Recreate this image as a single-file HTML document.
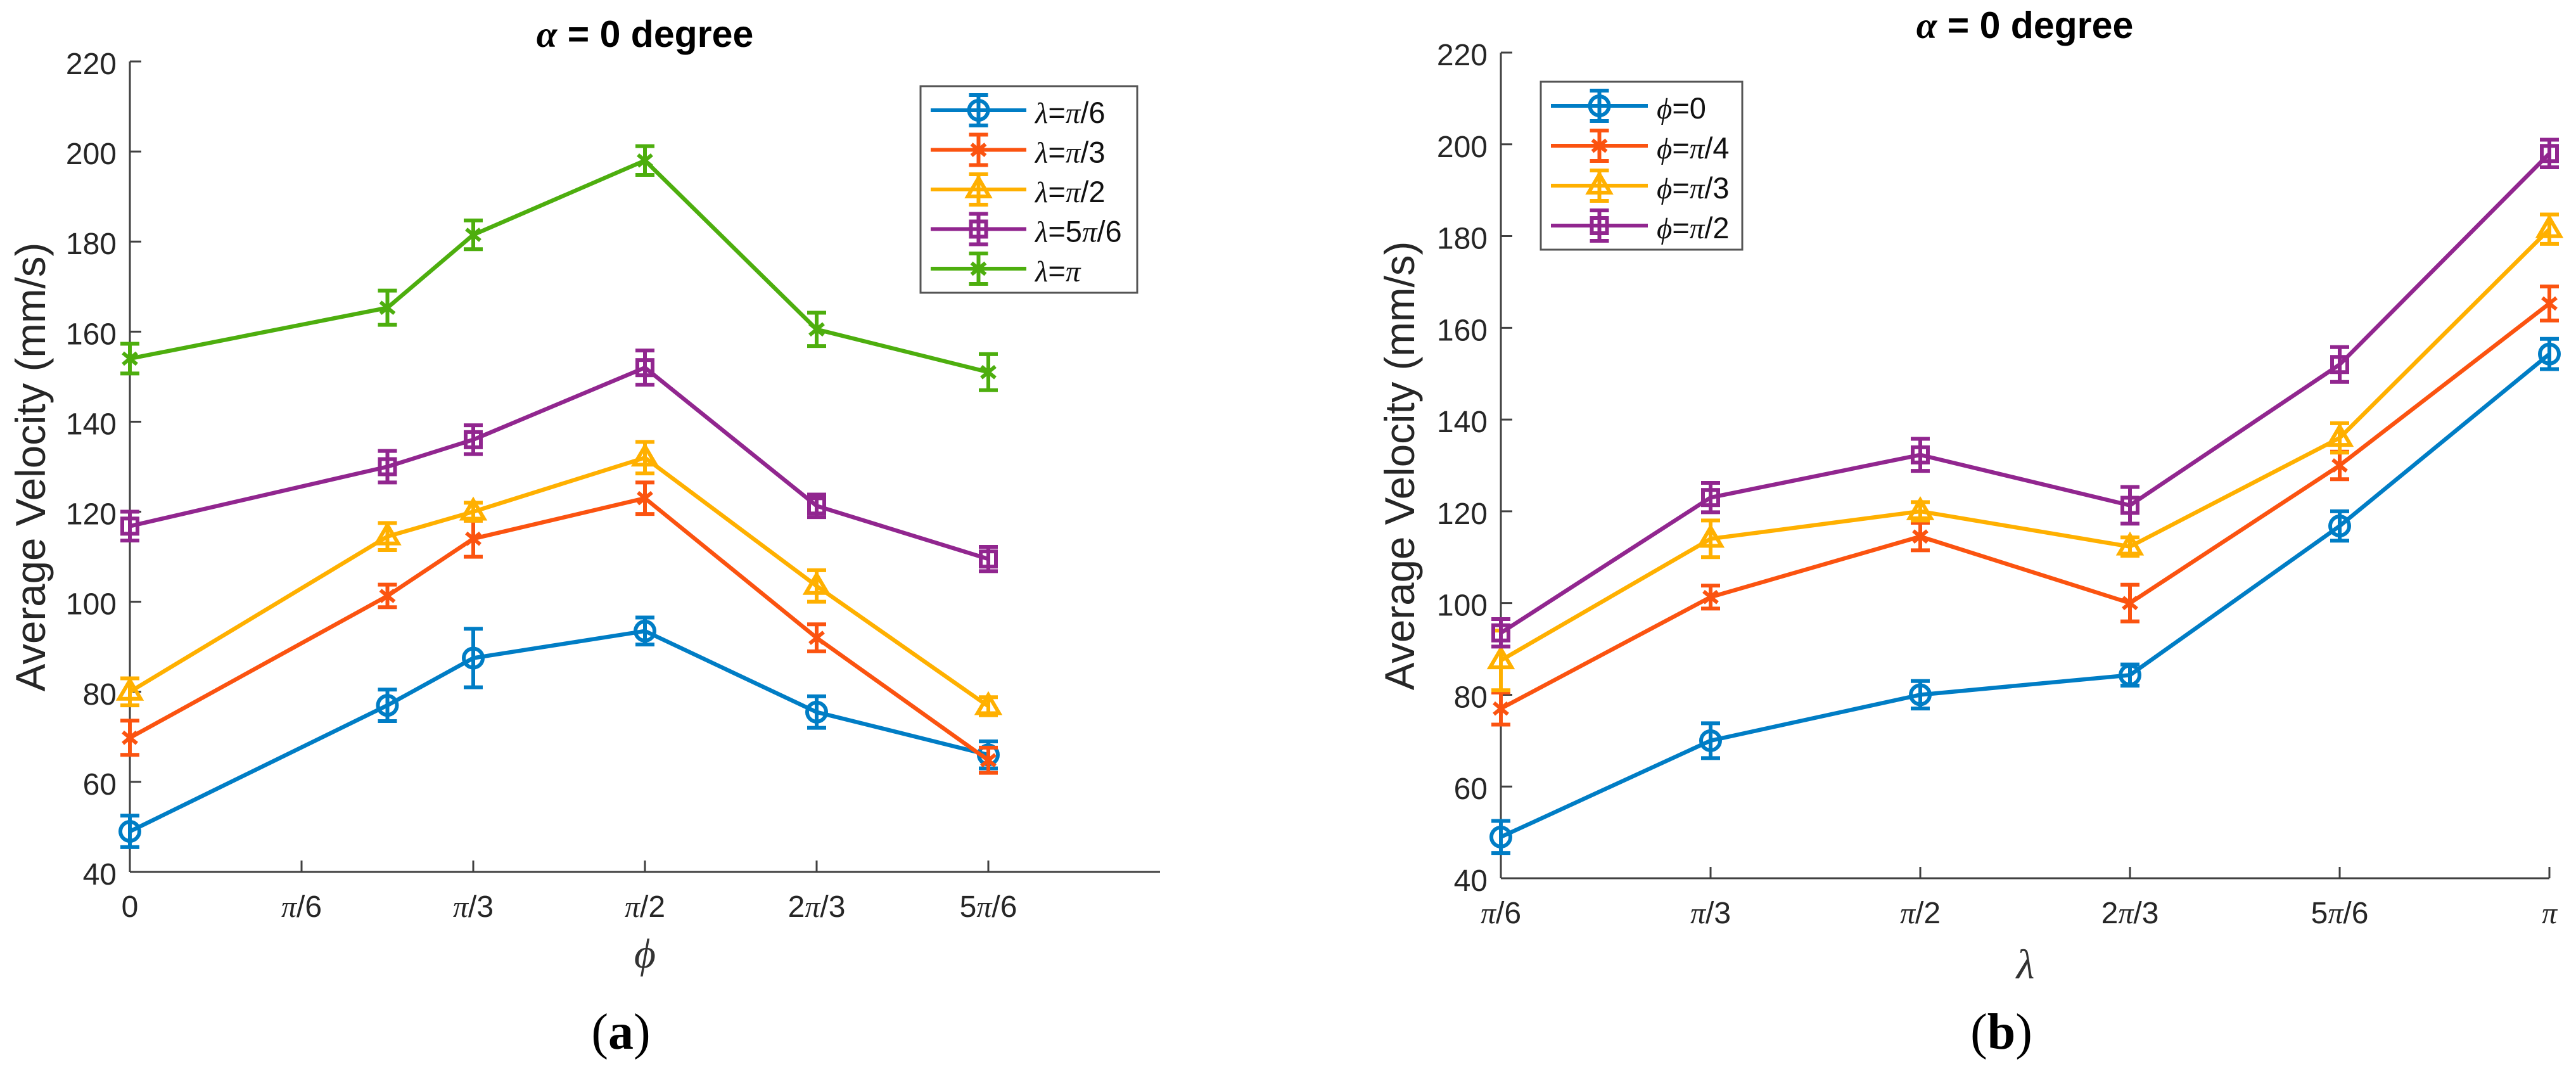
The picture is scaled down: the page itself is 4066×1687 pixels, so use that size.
<!DOCTYPE html>
<html lang="en">
<head>
<meta charset="utf-8">
<title>Average velocity at alpha = 0 degree</title>
<style>
html,body{margin:0;padding:0;background:#fff;}
svg{display:block;}
text{font-family:"Liberation Sans",sans-serif;}
</style>
</head>
<body>
<svg id="figure" xmlns="http://www.w3.org/2000/svg" width="4066" height="1687" viewBox="0 0 4066 1687">
  <rect x="0" y="0" width="4066" height="1687" fill="#fff"/>
  <g id="panel-a"></g>
  <g id="panel-b"></g>
  <text x="1018" y="74" text-anchor="middle" font-size="59" font-weight="bold" fill="#000"><tspan font-family="Liberation Serif" font-style="italic">α</tspan> = 0 degree</text>
  <text x="3196" y="60" text-anchor="middle" font-size="59" font-weight="bold" fill="#000"><tspan font-family="Liberation Serif" font-style="italic">α</tspan> = 0 degree</text>
  <text transform="translate(71 737) rotate(-90)" text-anchor="middle" font-size="65.5" fill="#262626">Average Velocity (mm/s)</text>
  <text transform="translate(2232 735) rotate(-90)" text-anchor="middle" font-size="65.5" fill="#262626">Average Velocity (mm/s)</text>
  <text x="1018" y="1527" text-anchor="middle" font-size="66" font-style="italic" fill="#333" style="font-family:'Liberation Serif',serif">ϕ</text>
  <text x="3197" y="1544" text-anchor="middle" font-size="66" font-style="italic" fill="#333" style="font-family:'Liberation Serif',serif">λ</text>
  <text x="980" y="1655" text-anchor="middle" font-size="80" fill="#000" style="font-family:'Liberation Serif',serif">(<tspan font-weight="bold">a</tspan>)</text>
  <text x="3159" y="1655" text-anchor="middle" font-size="80" fill="#000" style="font-family:'Liberation Serif',serif">(<tspan font-weight="bold">b</tspan>)</text>
</svg>
<script>
// ---- Data: panel (a), velocity against phi, one series per lambda ----
const phiCategories = [0, 1/4, 1/3, 1/2, 2/3, 5/6];
const phiTickValues = [0, 1/6, 1/3, 1/2, 2/3, 5/6];
const phiTickLabels = ['0', 'π/6', 'π/3', 'π/2', '2π/3', '5π/6'];
const lambdaNames = ['λ=π/6', 'λ=π/3', 'λ=π/2', 'λ=5π/6', 'λ=π'];
const lambdaPi6 = [49, 77, 87.5, 93.5, 75.5, 66];
const lambdaPi3 = [69.8, 101.3, 114, 123, 92, 64.8];
const lambdaPi2 = [80, 114.5, 120, 132, 103.5, 76.8];
const lambda5Pi6 = [116.8, 130, 136, 152, 121.3, 109.5];
const lambdaPi = [154, 165.3, 181.5, 198, 160.5, 151];
const lambdaPi6Err = [3.5, 3.5, 6.5, 3, 3.5, 3];
const lambdaPi3Err = [3.8, 2.5, 4, 3.5, 3, 2.8];
const lambdaPi2Err = [3, 3, 2, 3.5, 3.5, 2];
const lambda5Pi6Err = [3.2, 3.5, 3.2, 3.8, 2.5, 2.7];
const lambdaPiErr = [3.3, 3.8, 3.2, 3.2, 3.7, 4];

// ---- Data: panel (b), velocity against lambda, one series per phi ----
const lambdaCategories = [1/6, 1/3, 1/2, 2/3, 5/6, 1];
const lambdaTickLabels = ['π/6', 'π/3', 'π/2', '2π/3', '5π/6', 'π'];
const phiNames = ['ϕ=0', 'ϕ=π/4', 'ϕ=π/3', 'ϕ=π/2'];
const phiZero = [49, 70, 80, 84.3, 116.8, 154.3];
const phiPi4 = [77, 101.3, 114.5, 100, 130, 165.3];
const phiPi3 = [87.5, 114, 120, 112.3, 136, 181.5];
const phiPi2 = [93.5, 123, 132.3, 121.3, 152, 198];
const phiZeroErr = [3.5, 3.8, 3, 2.3, 3.2, 3.3];
const phiPi4Err = [3.5, 2.5, 3, 4, 3, 3.7];
const phiPi3Err = [6.5, 4, 2, 2, 3.2, 3.2];
const phiPi2Err = [3, 3.2, 3.5, 4, 3.8, 3];

const yTickValues = [40, 60, 80, 100, 120, 140, 160, 180, 200, 220];

// ---- Styling ----
const BLUE = '#007DC5', ORANGE = '#FB5310', YELLOW = '#FFB000', PURPLE = '#91268F', GREEN = '#4DAE0E';
const AXIS = '#404040', LABEL = '#262626';
const NS = 'http://www.w3.org/2000/svg';

function mk(tag, attrs, parent) {
  const el = document.createElementNS(NS, tag);
  for (const k in attrs) el.setAttribute(k, attrs[k]);
  parent.appendChild(el);
  return el;
}
function slug(s) {
  return s.replace('λ', 'lambda-').replace('ϕ', 'phi-').replace('=', '').replace('π', 'pi').replace('/', '-over-');
}
function mathText(parent, str) {
  // Greek letters are set in the serif face, everything else in the sans face
  str.split(/([πλϕ])/).forEach(function (part) {
    if (!part) return;
    const t = mk('tspan', {}, parent);
    if (/[πλϕ]/.test(part)) {
      t.setAttribute('font-family', 'Liberation Serif');
      t.setAttribute('font-style', 'italic');
    }
    t.textContent = part;
  });
}

function drawMarker(parent, shape, x, y, color) {
  const common = { fill: 'none', stroke: color, 'stroke-width': 6 };
  let m;
  if (shape === 'circle') {
    m = mk('circle', Object.assign({ cx: x, cy: y, r: 15 }, common), parent);
  } else if (shape === 'square') {
    m = mk('rect', Object.assign({ x: x - 12, y: y - 12, width: 24, height: 24 }, common), parent);
  } else if (shape === 'triangle') {
    m = mk('path', Object.assign({ d: 'M' + x + ' ' + (y - 18) + 'L' + (x + 17) + ' ' + (y + 11) + 'L' + (x - 17) + ' ' + (y + 11) + 'Z' }, common), parent);
  } else {
    const r = 13, qx = 11, qy = 9;
    m = mk('path', Object.assign({ d: 'M' + x + ' ' + (y - r) + 'V' + (y + r) +
      'M' + (x - qx) + ' ' + (y - qy) + 'L' + (x + qx) + ' ' + (y + qy) + 'M' + (x - qx) + ' ' + (y + qy) + 'L' + (x + qx) + ' ' + (y - qy) }, common), parent);
  }
  
  
}

function drawErrorBar(parent, x, yLow, yHigh, color) {
  const d = 'M' + x + ' ' + yLow + 'V' + yHigh + 'M' + (x - 15) + ' ' + yLow + 'H' + (x + 15) + 'M' + (x - 15) + ' ' + yHigh + 'H' + (x + 15);
  const e = mk('path', { d: d, fill: 'none', stroke: color, 'stroke-width': 6 }, parent);
  
  
}

function drawPanel(cfg) {
  const root = document.getElementById(cfg.id);
  const xScale = function (v) { return cfg.left + (v - cfg.xMin) / (cfg.xMax - cfg.xMin) * (cfg.right - cfg.left); };
  const yScale = function (v) { return cfg.bottom - (v - cfg.yMin) / (cfg.yMax - cfg.yMin) * (cfg.bottom - cfg.top); };

  // axes
  const yAxis = mk('line', { x1: cfg.left, x2: cfg.left, y1: cfg.top, y2: cfg.bottom, stroke: AXIS, 'stroke-width': 3 }, root);
  
  
  const xAxis = mk('line', { x1: cfg.left, x2: cfg.right, y1: cfg.bottom, y2: cfg.bottom, stroke: AXIS, 'stroke-width': 3 }, root);
  
  

  yTickValues.forEach(function (v) {
    const y = yScale(v);
    const tick = mk('line', { x1: cfg.left, x2: cfg.left + 18, y1: y, y2: y, stroke: AXIS, 'stroke-width': 3 }, root);
    
    
    const label = mk('text', { x: cfg.left - 21, y: y + 20, 'text-anchor': 'end', 'font-size': 48, fill: LABEL }, root);
    
    
    label.textContent = String(v);
  });

  cfg.xTicks.forEach(function (v, i) {
    const x = xScale(v);
    const tick = mk('line', { x1: x, x2: x, y1: cfg.bottom, y2: cfg.bottom - 18, stroke: AXIS, 'stroke-width': 3 }, root);
    
    
    const label = mk('text', { x: x, y: cfg.bottom + 71, 'text-anchor': 'middle', 'font-size': 48, fill: LABEL }, root);
    
    
    mathText(label, cfg.xLabels[i]);
  });

  // series
  cfg.series.forEach(function (s) {
    const g = mk('g', {}, root);
    
    
    const pts = s.values.map(function (v, i) { return xScale(cfg.categories[i]) + ',' + yScale(v); }).join(' ');
    const line = mk('polyline', { points: pts, fill: 'none', stroke: s.color, 'stroke-width': 6.5, 'stroke-linejoin': 'miter' }, g);
    
    
    s.values.forEach(function (v, i) {
      const x = xScale(cfg.categories[i]);
      drawErrorBar(g, x, yScale(v - s.err[i]), yScale(v + s.err[i]), s.color);
      drawMarker(g, s.shape, x, yScale(v), s.color);
    });
  });

  // legend
  const L = cfg.legend;
  const lg = mk('g', {}, root);
  
  
  const box = mk('rect', { x: L.x, y: L.y, width: L.w, height: L.h, fill: '#fff', stroke: '#555', 'stroke-width': 3 }, lg);
  
  
  cfg.series.forEach(function (s, i) {
    const y = L.firstRow + i * L.rowStep;
    const entry = mk('g', {}, lg);
    
    
    const sample = mk('line', { x1: L.lineX1, x2: L.lineX2, y1: y, y2: y, stroke: s.color, 'stroke-width': 6 }, entry);
    
    
    const cx = (L.lineX1 + L.lineX2) / 2;
    drawErrorBar(entry, cx, y + 24, y - 24, s.color);
    drawMarker(entry, s.shape, cx, y, s.color);
    const label = mk('text', { x: L.textX, y: y + 20, 'font-size': 47, fill: '#111' }, entry);
    
    
    mathText(label, s.name);
  });
}

drawPanel({
  id: 'panel-a',
  left: 205, right: 1831, top: 97, bottom: 1376,
  xMin: 0, xMax: 1, yMin: 40, yMax: 220,
  categories: phiCategories,
  xTicks: phiTickValues,
  xLabels: phiTickLabels,
  series: [
    { name: lambdaNames[0], values: lambdaPi6, err: lambdaPi6Err, color: BLUE, shape: 'circle' },
    { name: lambdaNames[1], values: lambdaPi3, err: lambdaPi3Err, color: ORANGE, shape: 'star' },
    { name: lambdaNames[2], values: lambdaPi2, err: lambdaPi2Err, color: YELLOW, shape: 'triangle' },
    { name: lambdaNames[3], values: lambda5Pi6, err: lambda5Pi6Err, color: PURPLE, shape: 'square' },
    { name: lambdaNames[4], values: lambdaPi, err: lambdaPiErr, color: GREEN, shape: 'star' }
  ],
  legend: { x: 1453, y: 136, w: 342, h: 326, firstRow: 174, rowStep: 62.5, lineX1: 1469, lineX2: 1620, textX: 1634 }
});

drawPanel({
  id: 'panel-b',
  left: 2369, right: 4024, top: 83, bottom: 1386,
  xMin: 1/6, xMax: 1, yMin: 40, yMax: 220,
  categories: lambdaCategories,
  xTicks: lambdaCategories,
  xLabels: lambdaTickLabels,
  series: [
    { name: phiNames[0], values: phiZero, err: phiZeroErr, color: BLUE, shape: 'circle' },
    { name: phiNames[1], values: phiPi4, err: phiPi4Err, color: ORANGE, shape: 'star' },
    { name: phiNames[2], values: phiPi3, err: phiPi3Err, color: YELLOW, shape: 'triangle' },
    { name: phiNames[3], values: phiPi2, err: phiPi2Err, color: PURPLE, shape: 'square' }
  ],
  legend: { x: 2432, y: 129, w: 318, h: 265, firstRow: 167, rowStep: 63, lineX1: 2448, lineX2: 2601, textX: 2615 }
});
</script>
</body>
</html>
